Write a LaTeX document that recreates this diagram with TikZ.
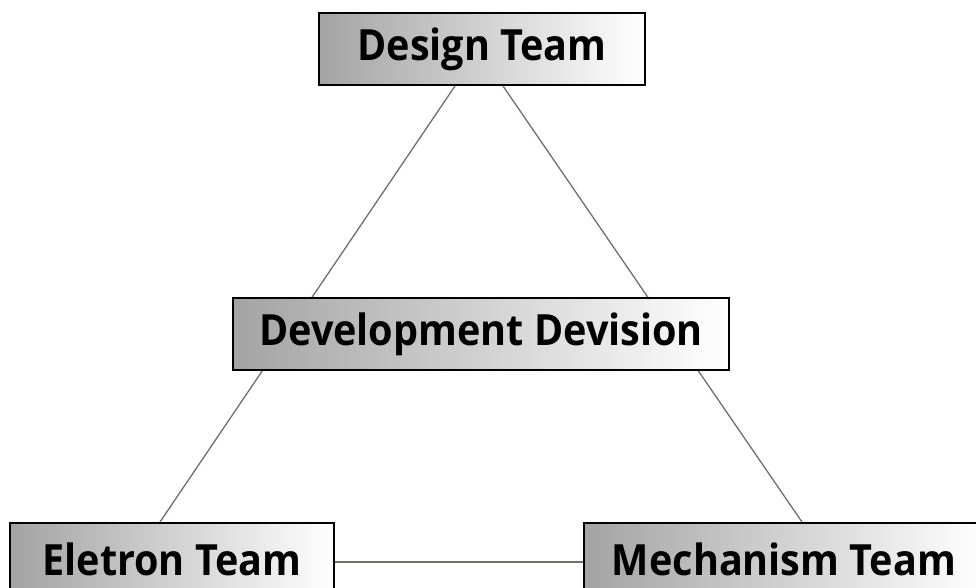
\documentclass[tikz,border=0pt]{standalone}
\usepackage{fontspec}
\setmainfont{Open Sans}[FakeStretch=0.92]
\usetikzlibrary{positioning}

\begin{document}
\begin{tikzpicture}[x=1pt, y=1pt,
    every node/.style={font=\fontsize{43}{47}\selectfont\bfseries},
    team/.style={draw=black, line width=2pt, left color=black!36, right color=white,
                 minimum height=72pt, inner sep=0pt},
    link/.style={draw={rgb,255:red,118;green,108;blue,108}, line width=1.3pt}]
            \useasboundingbox (0,0) rectangle (976,588);
            \clip (0,0) rectangle (976,588);
            \node[team, minimum width=326pt] (design) at (482,539) {Design Team};
            \node[team, minimum width=324pt] (eletron) at (172,29) {Eletron Team};
            \node[team, minimum width=400pt] (mech) at (784,29) {Mechanism Team};
            \draw[link] ([xshift=-27pt]design.south) -- ([xshift=-12pt]eletron.north);
            \draw[link] ([xshift=21pt]design.south) -- ([xshift=18pt]mech.north);
            \draw[link] ([yshift=-3pt]eletron.east) -- ([yshift=-3pt]mech.west);
            \node[team, minimum width=496pt] (dev) at (481,254) {Development Devision};
        \end{tikzpicture}
\end{document}
